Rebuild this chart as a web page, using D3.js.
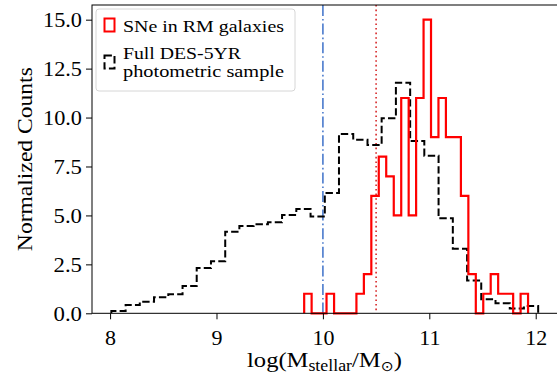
<!DOCTYPE html>
<html>
<head>
<meta charset="utf-8">
<script src="https://cdn.jsdelivr.net/npm/d3@7"></script>
<style>
  html, body { margin: 0; padding: 0; background: #fff; }
  svg { display: block; }
  text { font-family: "Liberation Serif", "DejaVu Serif", serif; fill: #000; }
</style>
</head>
<body>
<svg id="chart" width="557" height="376"></svg>
<script>
// SNe in RM galaxies (red step histogram)
const redEdges = [9.824, 9.894, 9.964, 10.034, 10.105, 10.175, 10.245, 10.315, 10.385, 10.455,
  10.525, 10.595, 10.666, 10.736, 10.806, 10.876, 10.946, 11.016, 11.086, 11.156,
  11.227, 11.297, 11.367, 11.437, 11.507, 11.577, 11.647, 11.718, 11.788, 11.858, 11.928];
const redCounts = [1, 0, 0, 1, 0, 0, 0, 1, 2, 6, 8, 7, 5, 11, 5, 11, 15, 9, 11, 9,
  9, 6, 2, 0, 1, 2, 1, 1, 0, 1];

// Full DES-5YR photometric sample (black dashed step histogram)
const blackEdges = [8.012, 8.146, 8.279, 8.413, 8.547, 8.681, 8.814, 8.948, 9.082, 9.215,
  9.349, 9.483, 9.616, 9.750, 9.884, 10.018, 10.151, 10.285, 10.419, 10.552,
  10.686, 10.820, 10.953, 11.087, 11.221, 11.355, 11.488, 11.622, 11.756, 11.889, 12.023];
const blackCounts = [0.12, 0.42, 0.59, 0.82, 0.97, 1.39, 2.32, 2.66, 4.17, 4.46,
  4.55, 4.65, 5.02, 5.33, 4.94, 6.15, 9.16, 8.86, 8.6, 9.96,
  11.78, 8.8, 8.05, 4.85, 3.3, 1.68, 0.72, 0.51, 0.24, 0.37];

const xTicks = [8, 9, 10, 11, 12];
const yTicks = [0, 2.5, 5, 7.5, 10, 12.5, 15];
const vLines = [10.0, 10.5];
const legendLabels = [["SNe in RM galaxies"], ["Full DES-5YR", "photometric sample"]];

const svg = d3.select("#chart");
const mLeft = 92, mRight = 557, mTop = 5, mBottom = 313.3;

const x = d3.scaleLinear().domain([7.83, 12.2]).range([mLeft, mRight]);
const y = d3.scaleLinear().domain([0, 15.75]).range([mBottom, mTop]);

// step outline like matplotlib histtype='step'
function stepPoints(edges, vals) {
  const pts = [[edges[0], 0]];
  vals.forEach((v, i) => {
    pts.push([edges[i], v]);
    pts.push([edges[i + 1], v]);
  });
  pts.push([edges[edges.length - 1], 0]);
  return pts;
}

// squeeze/stretch a text horizontally to a target width (CM is wider than Times)
function fitWidth(sel, target, ax) {
  const w = sel.node().getBBox().width;
  if (!w) return;
  const k = target / w;
  sel.attr("transform", `translate(${ax},0) scale(${k},1) translate(${-ax},0)`);
}

const line = d3.line().x(d => x(d[0])).y(d => y(d[1]));

const plot = svg.append("g");

// reference lines
plot.append("line")
  .attr("x1", x(vLines[0])).attr("x2", x(vLines[0]))
  .attr("y1", mTop).attr("y2", mBottom)
  .attr("stroke", "#4a7bcc").attr("stroke-width", 1.6)
  .attr("stroke-dasharray", "11,3,1.6,3");
plot.append("line")
  .attr("x1", x(vLines[1])).attr("x2", x(vLines[1]))
  .attr("y1", mTop).attr("y2", mBottom)
  .attr("stroke", "#d62728").attr("stroke-width", 1.6)
  .attr("stroke-dasharray", "1.6,3");

plot.append("path")
  .attr("d", line(stepPoints(blackEdges, blackCounts)))
  .attr("fill", "none").attr("stroke", "#000").attr("stroke-width", 2)
  .attr("stroke-dasharray", "7.4,3.2");

plot.append("path")
  .attr("d", line(stepPoints(redEdges, redCounts)))
  .attr("fill", "none").attr("stroke", "#ff0000").attr("stroke-width", 2.2)
  .attr("stroke-linejoin", "miter");

// frame
svg.append("rect")
  .attr("x", mLeft).attr("y", mTop)
  .attr("width", mRight - mLeft + 10).attr("height", mBottom - mTop)
  .attr("fill", "none").attr("stroke", "#000").attr("stroke-width", 1);

// axes
const xAxis = svg.append("g").attr("transform", `translate(0,${mBottom})`)
  .call(d3.axisBottom(x).tickValues(xTicks).tickFormat(d3.format("d")).tickSize(6).tickPadding(10));
xAxis.select(".domain").remove();
xAxis.selectAll("text").attr("font-size", 22);
xAxis.selectAll("line").attr("stroke-width", 1);

const yAxis = svg.append("g").attr("transform", `translate(${mLeft},0)`)
  .call(d3.axisLeft(y).tickValues(yTicks).tickFormat(d3.format(".1f")).tickSize(6).tickPadding(4));
yAxis.select(".domain").remove();
yAxis.selectAll("text").attr("font-size", 22)
  .each(function(d) {
    const s = d3.format(".1f")(d);
    fitWidth(d3.select(this), s.length > 3 ? 39 : 28.5, -10);
  });
yAxis.selectAll("line").attr("stroke-width", 1);
svg.selectAll("g").attr("font-family", null);

// axis labels
const xc = (mLeft + mRight) / 2;
const xl = svg.append("text")
  .attr("x", xc).attr("y", 367)
  .attr("text-anchor", "middle").attr("font-size", 22);
xl.append("tspan").text("log(M");
xl.append("tspan").attr("dy", 4).attr("font-size", 16).text("stellar");
xl.append("tspan").attr("dy", -4).text("/M");
xl.append("tspan").attr("dy", 4).attr("font-size", 14).attr("font-family", "DejaVu Sans").text("\u2299");
xl.append("tspan").attr("dy", -4).text(")");
fitWidth(xl, 155, xc);

svg.append("text")
  .attr("x", 0).attr("y", 0)
  .attr("transform", `translate(32,${(mTop + mBottom) / 2}) rotate(-90)`)
  .attr("text-anchor", "middle").attr("font-size", 22)
  .attr("textLength", 184).attr("lengthAdjust", "spacingAndGlyphs")
  .text("Normalized Counts");

// legend
const lg = svg.append("g");
lg.append("rect")
  .attr("x", 96).attr("y", 9).attr("width", 199).attr("height", 82)
  .attr("rx", 3).attr("fill", "#fff").attr("fill-opacity", 0.8)
  .attr("stroke", "#d6d6d6").attr("stroke-width", 1);

lg.append("rect")
  .attr("x", 104.5).attr("y", 18.5).attr("width", 10).attr("height", 13)
  .attr("fill", "none").attr("stroke", "#ff0000").attr("stroke-width", 2);
lg.append("rect")
  .attr("x", 104.5).attr("y", 55.5).attr("width", 10).attr("height", 13)
  .attr("fill", "none").attr("stroke", "#000").attr("stroke-width", 2)
  .attr("stroke-dasharray", "7.4,3.2");

lg.append("text").attr("x", 123).attr("y", 31.5).attr("font-size", 17)
  .attr("textLength", 161).attr("lengthAdjust", "spacingAndGlyphs")
  .text(legendLabels[0][0]);

const lt = lg.append("text").attr("font-size", 16.5);
lt.append("tspan").attr("x", 123).attr("y", 58.5)
  .attr("textLength", 118).attr("lengthAdjust", "spacingAndGlyphs")
  .text(legendLabels[1][0]);
lt.append("tspan").attr("x", 123).attr("y", 77)
  .attr("textLength", 161).attr("lengthAdjust", "spacingAndGlyphs")
  .text(legendLabels[1][1]);
</script>
</body>
</html>
